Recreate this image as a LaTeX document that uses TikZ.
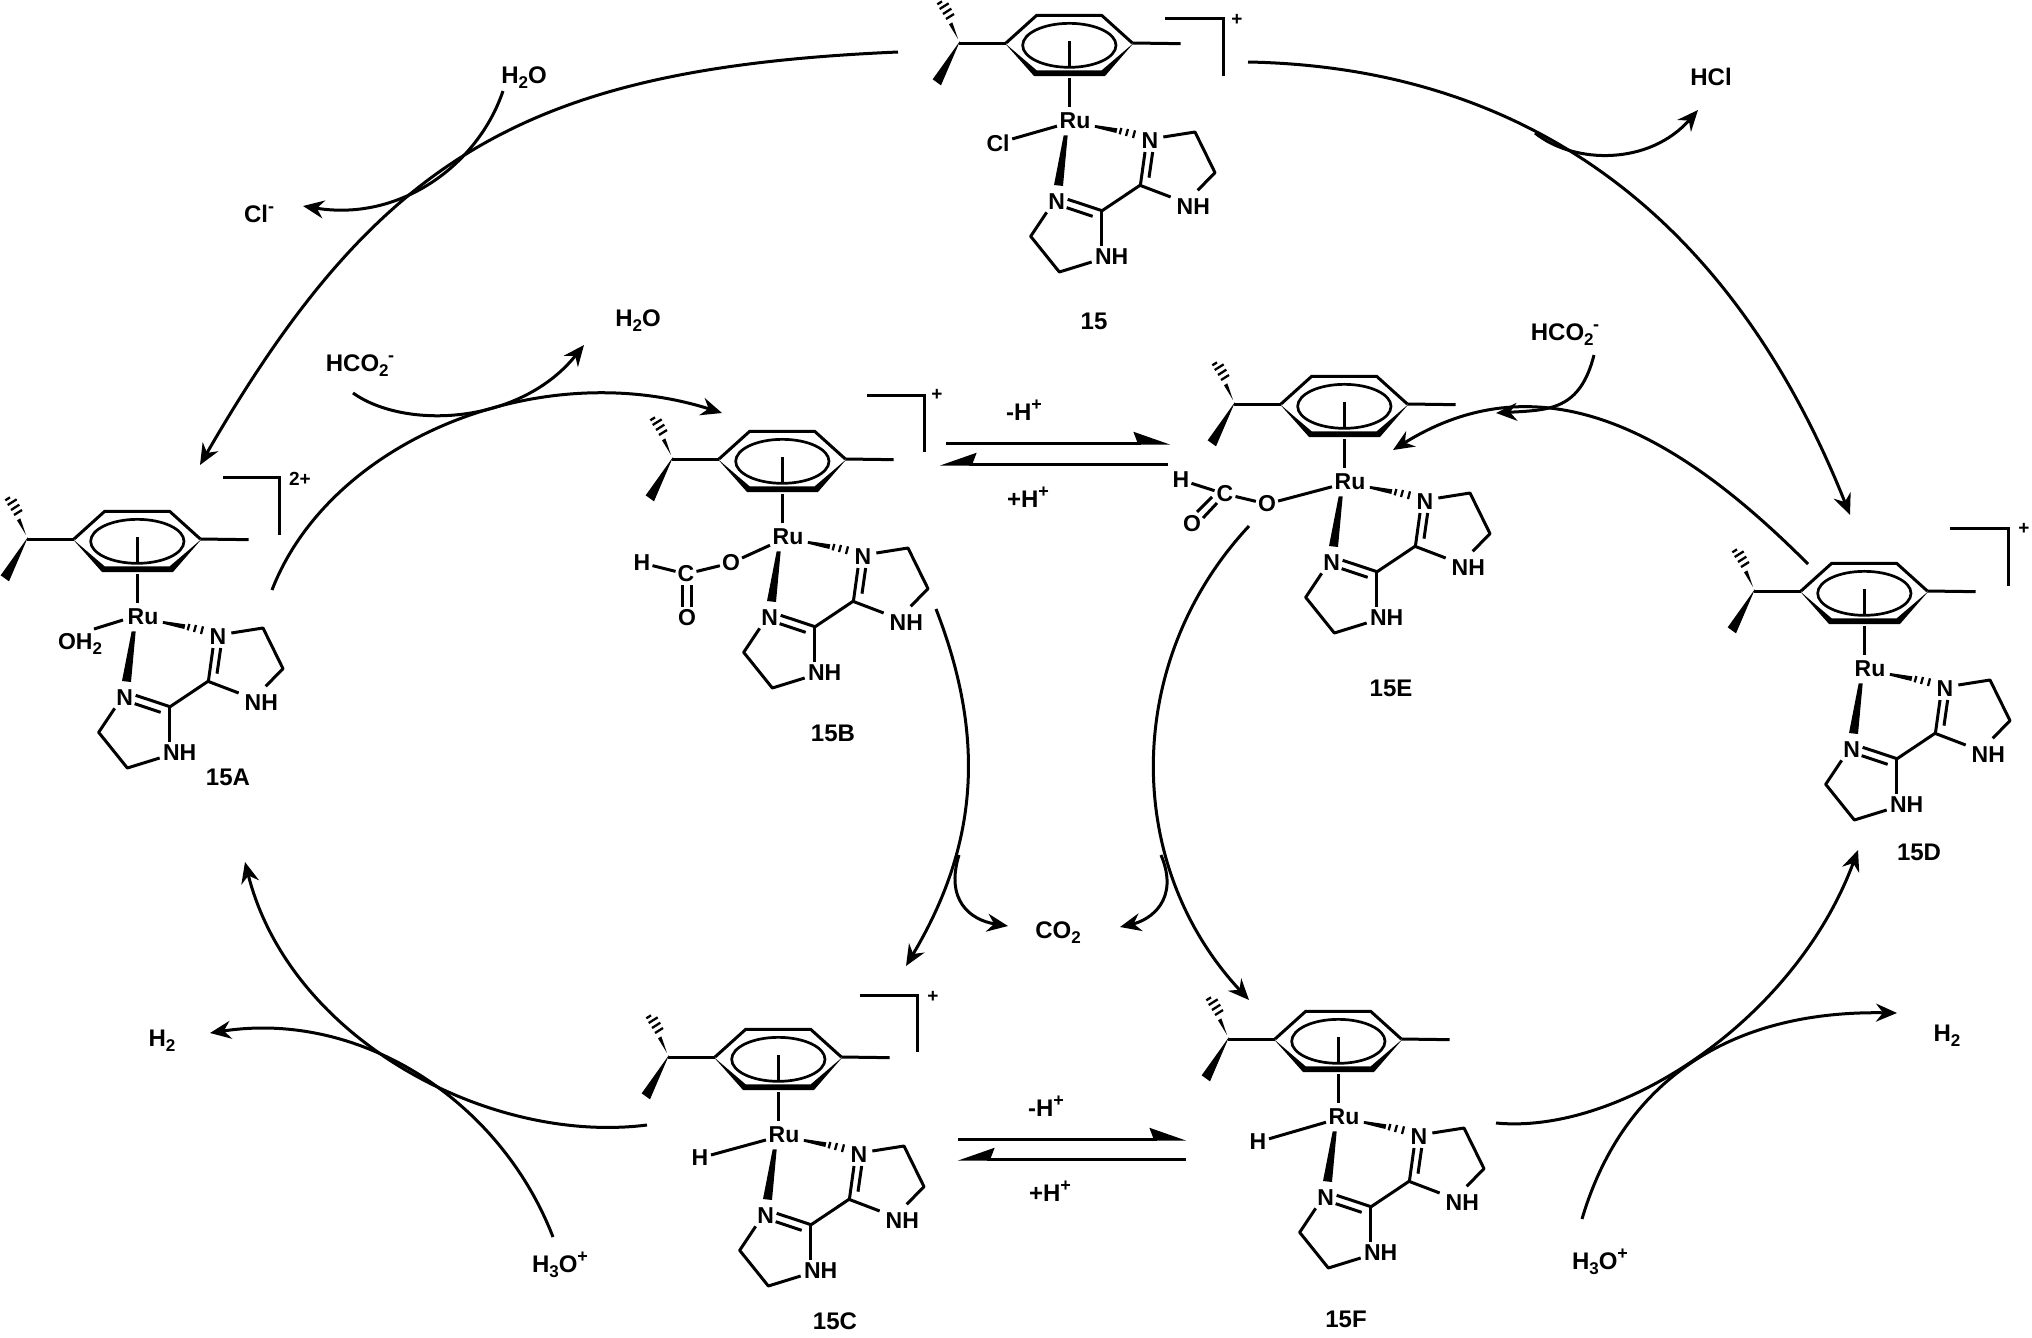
\documentclass[tikz,border=0pt]{standalone}
\usepackage{fontspec}
\setmainfont{Liberation Sans}
\usetikzlibrary{arrows.meta}
\newcommand{\sbs}[1]{\smash{\raisebox{-5pt}{\fontsize{17}{17}\selectfont #1}}}
\newcommand{\sps}[1]{\smash{\raisebox{10pt}{\fontsize{18}{18}\selectfont #1}}}
\newcommand{\hcotwo}{HCO\sbs{2}\kern-0.5pt\sps{-}}
\tikzset{
  bond/.style={line width=3pt,line cap=butt,line join=miter},
  wedgefill/.style={fill=black,draw=none},
  hash/.style={line width=2.3pt},
  atom/.style={font=\fontsize{23}{23}\selectfont\bfseries,inner sep=2.5pt,text=black},
  lab/.style={font=\fontsize{24}{24}\selectfont\bfseries,inner sep=0pt,text=black},
  chg/.style={font=\fontsize{19}{19}\selectfont\bfseries,inner sep=0pt,text=black},
  rxn/.style={line width=3pt,-{Stealth[length=21pt,width=18pt,inset=7pt]}},
  harp/.style={line width=3pt,-{Stealth[harpoon,length=32pt,width=22pt,inset=4pt]}},
  harpflip/.style={line width=3pt,-{Stealth[harpoon,swap,length=32pt,width=22pt,inset=4pt]}},
}
\newcommand{\rucomplex}[3]{%
  \node[atom] (ru#1) at (#2,#3) {Ru};
  \begin{scope}[shift={(#2,#3)}]
  \begin{scope}[x=.33333pt,y=-.33333pt,shift={(-525,-362)}]
    % isopropyl
    \draw[bond] (178,128) -- (318,128);
    \fill[wedgefill] (180,122) -- (98,237) -- (123,255) -- cycle;
    \fill[wedgefill] (174,116) -- (147,72) -- (157,66) -- cycle;
    \draw[hash] (138,56) -- (162,41);
    \draw[hash] (129,41) -- (154,25);
    \draw[hash] (119,26) -- (146,9);
    \draw[hash] (112,12) -- (126,3);
    % arene
    \draw[bond,line join=miter] (318,128) -- (410,45) -- (605,45) -- (697,128);
    \fill[wedgefill] (314,128) -- (410,210) -- (605,210) -- (701,128) -- (615,227) -- (402,227) -- cycle;
    \draw[line width=2.7pt] (508,135) ellipse [x radius=140,y radius=66];
    \draw[bond] (697,128) -- (842,130);
    \draw[bond] (508,123) -- (508,200);
    \draw[bond] (507,233) -- (507,321);
    % wedge and hash to N
    \fill[wedgefill] (491,405) -- (503,405) -- (489,557) -- (462,554) -- cycle;
    \fill[wedgefill] (585,374) -- (652,384) -- (649,398) -- (584,382) -- cycle;
    \draw[hash] (664,383) -- (659,402);
    \draw[hash] (684,386) -- (678,407);
    \draw[hash] (705,390) -- (699,413);
    % ligand
    \node[atom] (na#1) at (750,420) {N};
    \node[atom] (nh#1) at (880,618) {NH};
    \node[atom] (nb#1) at (470,605) {N};
    \node[atom] (nc#1) at (635,770) {NH};
    \draw[bond,line join=round] (790,410) -- (885,395) -- (945,517) -- (893,570);
    \draw[bond] (720,555) -- (812,590);
    \draw[bond] (735,455) -- (721,556);
    \draw[bond] (758,455) -- (747,532);
    \draw[bond] (720,555) -- (605,632);
    \draw[bond] (503,597) -- (606,631);
    \draw[bond] (500,622) -- (578,648);
    \draw[bond] (605,632) -- (605,736);
    \draw[bond,line join=round] (575,785) -- (478,815) -- (392,708) -- (440,636);
  \end{scope}
  \end{scope}
}
\begin{document}
\begin{tikzpicture}[x=1pt,y=-1pt]
\useasboundingbox (0,0) rectangle (2032,1338);

% complexes
\rucomplex{O}{1075}{121}
\rucomplex{A}{143}{617}
\rucomplex{B}{788}{537}
\rucomplex{C}{784}{1135}
\rucomplex{D}{1870}{669}
\rucomplex{E}{1350}{482}
\rucomplex{F}{1344}{1117}

% brackets and charges
\draw[bond] (1165,19) -- (1223,19) -- (1223,76);
\node[chg] (chO) at (1237,20) {+};
\draw[bond] (223,477) -- (279,477) -- (279,535);
\node[chg] (chA) at (300,479) {2+};
\draw[bond] (867,395) -- (924,395) -- (924,452);
\node[chg] (chB) at (937,395) {+};
\draw[bond] (860,995) -- (917,995) -- (917,1052);
\node[chg] (chC) at (933,997) {+};
\draw[bond] (1950,528) -- (2008,528) -- (2008,586);
\node[chg] (chD) at (2024,529) {+};

% left-hand ligands
\node[atom] (cl) at (998,143) {Cl};
\draw[bond] (cl) -- (ruO);
\node[atom,inner sep=0pt] (oh) at (80,642) {OH\sbs{2}};
\draw[bond] (123,620) -- (94,629);
% formate 15B
\node[atom,inner sep=1pt] (hB) at (642,563) {H};
\node[atom,inner sep=1pt] (cB) at (686,574) {C};
\node[atom,inner sep=1pt] (oB) at (731,563) {O};
\node[atom,inner sep=1pt] (pB) at (687,618) {O};
\draw[bond,shorten >=1pt,shorten <=1pt] (hB) -- (cB);
\draw[bond,shorten >=1pt,shorten <=1pt] (cB) -- (oB);
\draw[bond,shorten <=1pt] (oB) -- (ruB);
\draw[bond] (682,585) -- (682,607);
\draw[bond] (691,585) -- (691,607);
% formate 15E
\node[atom,inner sep=1pt] (hE) at (1181,480) {H};
\node[atom,inner sep=1pt] (cE) at (1225,494) {C};
\node[atom,inner sep=1pt] (oE) at (1267,504) {O};
\node[atom,inner sep=1pt] (pE) at (1192,524) {O};
\draw[bond,shorten >=1pt,shorten <=1pt] (hE) -- (cE);
\draw[bond,shorten >=1pt,shorten <=1pt] (cE) -- (oE);
\draw[bond,shorten <=1pt] (oE) -- (ruE);
\draw[bond] (1212,497) -- (1197,512);
\draw[bond] (1217,503) -- (1203,518);
% hydrides
\node[atom] (hC) at (700,1158) {H};
\draw[bond] (hC) -- (ruC);
\node[atom] (hF) at (1258,1142) {H};
\draw[bond] (hF) -- (ruF);

% compound labels
\node[lab] (l15) at (1094,321) {15};
\node[lab] (l15A) at (228,777) {15A};
\node[lab] (l15B) at (833,733) {15B};
\node[lab] (l15C) at (835,1321) {15C};
\node[lab] (l15D) at (1919,852) {15D};
\node[lab] (l15E) at (1391,688) {15E};
\node[lab] (l15F) at (1346,1319) {15F};

% reagents
\node[lab] (wa) at (524,75) {H\sbs{2}O};
\node[lab] (cli) at (259,214) {Cl\sps{-}};
\node[lab] (fa) at (360,363) {\hcotwo};
\node[lab] (wb) at (638,318) {H\sbs{2}O};
\node[lab] (hcl) at (1711,77) {HCl};
\node[lab] (fb) at (1565,332) {\hcotwo};
\node[lab] (co) at (1058,930) {CO\sbs{2}};
\node[lab] (ha) at (162,1038) {H\sbs{2}};
\node[lab] (hb) at (1947,1033) {H\sbs{2}};
\node[lab] (ta) at (560,1264) {H\sbs{3}O\sps{+}};
\node[lab] (tb) at (1600,1261) {H\sbs{3}O\sps{+}};
\node[lab] (ma) at (1024,412) {-H\sps{+}};
\node[lab] (pa) at (1028,499) {+H\sps{+}};
\node[lab] (mb) at (1046,1108) {-H\sps{+}};
\node[lab] (pb) at (1050,1193) {+H\sps{+}};

% arrow end points
\coordinate (s1) at (898,52);   \coordinate (e1) at (200,465);
\coordinate (s2) at (503,91);   \coordinate (e2) at (303,206);
\coordinate (s3) at (1248,62);  \coordinate (e3) at (1850,515);
\coordinate (s4) at (1535,133); \coordinate (e4) at (1698,110);
\coordinate (s5) at (272,590);  \coordinate (e5) at (722,413);
\coordinate (s6) at (353,393);  \coordinate (e6) at (584,345);
\coordinate (s7) at (1808,564); \coordinate (e7) at (1393,450);
\coordinate (s8) at (1594,355); \coordinate (e8) at (1496,413);
\coordinate (s9) at (936,609);  \coordinate (e9) at (906,966);
\coordinate (s10) at (959,855); \coordinate (e10) at (1008,926);
\coordinate (s11) at (1161,855);\coordinate (e11) at (1120,927);
\coordinate (s12) at (1249,526);\coordinate (e12) at (1249,1000);
\coordinate (s13) at (647,1125);\coordinate (e13) at (245,862);
\coordinate (s14) at (553,1237);\coordinate (e14) at (210,1033);
\coordinate (s15) at (1496,1123);\coordinate (e15) at (1858,850);
\coordinate (s16) at (1582,1219);\coordinate (e16) at (1897,1013);
\coordinate (u1) at (946,443);  \coordinate (u2) at (1170,443);
\coordinate (u3) at (1168,464); \coordinate (u4) at (940,464);
\coordinate (w1) at (958,1139); \coordinate (w2) at (1186,1139);
\coordinate (w3) at (1186,1159);\coordinate (w4) at (958,1159);

% arrows
\draw[rxn] (s1) .. controls (530,68) and (380,153) .. (e1);
\draw[rxn] (s2) .. controls (478,165) and (400,222) .. (e2);
\draw[rxn] (s3) .. controls (1510,67) and (1724,199) .. (e3);
\draw[rxn] (s4) .. controls (1575,165) and (1650,165) .. (e4);
\draw[rxn] (s5) .. controls (330,440) and (540,355) .. (e5);
\draw[rxn] (s6) .. controls (405,430) and (520,425) .. (e6);
\draw[rxn] (s7) .. controls (1698,454) and (1555,349) .. (e7);
\draw[rxn] (s8) .. controls (1580,410) and (1550,410) .. (e8);
\draw[rxn] (s9) to[bend left=26] (e9);
\draw[rxn] (s10) .. controls (945,900) and (970,920) .. (e10);
\draw[rxn] (s11) .. controls (1180,900) and (1150,920) .. (e11);
\draw[rxn] (s12) to[bend right=43] (e12);
\draw[rxn] (s13) .. controls (490,1145) and (290,1040) .. (e13);
\draw[rxn] (s14) .. controls (500,1100) and (360,1010) .. (e14);
\draw[rxn] (s15) .. controls (1620,1135) and (1795,1020) .. (e15);
\draw[rxn] (s16) .. controls (1620,1090) and (1720,1010) .. (e16);
\draw[harp] (u1) -- (u2);
\draw[harpflip] (u3) -- (u4);
\draw[harp] (w1) -- (w2);
\draw[harpflip] (w3) -- (w4);
\end{tikzpicture}
\end{document}
